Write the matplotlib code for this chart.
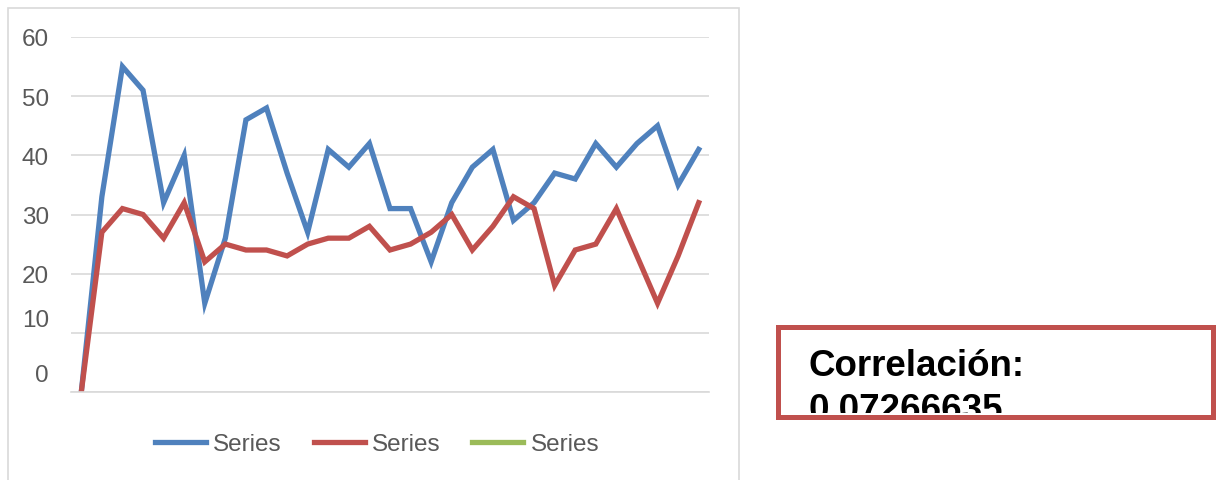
import matplotlib
matplotlib.use("Agg")
import matplotlib.pyplot as plt
import matplotlib.patches as patches
import matplotlib.transforms as mtransforms

plt.rcParams['font.family'] = ['Liberation Sans', 'DejaVu Sans']

# Serie 1 (azul) y serie 2 (roja); la tercera serie no tiene datos
serie_1 = [0, 33, 55, 51, 32, 40, 15, 26, 46, 48, 37, 27, 41, 38, 42, 31,
           31, 22, 32, 38, 41, 29, 32, 37, 36, 42, 38, 42, 45, 35, 41]
serie_2 = [0, 27, 31, 30, 26, 32, 22, 25, 24, 24, 23, 25, 26, 26, 28, 24,
           25, 27, 30, 24, 28, 33, 31, 18, 24, 25, 31, 23, 15, 23, 32]
serie_3 = []
nombres = ["Series", "Series", "Series"]
y_ticks = [0, 10, 20, 30, 40, 50, 60]
correlacion = "0.07266635"

W, H = 1217, 481
fig = plt.figure(figsize=(W / 100, H / 100), dpi=100)

# marco del grafico
fig.patches.append(patches.Rectangle((8 / W, -0.02), (739 - 8) / W, (H - 9) / H + 0.02,
                                     transform=fig.transFigure, fill=False,
                                     edgecolor='#D9D9D9', linewidth=1.2))

ax = fig.add_axes([71 / W, (H - 393) / H, (709 - 71) / W, (393 - 38) / H])
x = list(range(len(serie_1)))
ax.plot(x, serie_1, color='#4F81BD', lw=3.8, label=nombres[0], solid_joinstyle='miter')
ax.plot(x, serie_2, color='#C0504D', lw=3.8, label=nombres[1], solid_joinstyle='miter')
ax.plot(serie_3, serie_3, color='#9BBB59', lw=3.8, label=nombres[2])

ax.set_xlim(-0.5, len(serie_1) - 0.5)
ax.set_ylim(0, 60)
ax.set_yticks(y_ticks)
ax.set_xticks([])
ax.grid(axis='y', color='#D9D9D9', lw=1.2)
ax.set_axisbelow(True)
for s in ['top', 'right', 'left']:
    ax.spines[s].set_visible(False)
ax.spines['bottom'].set_color('#D9D9D9')
ax.spines['bottom'].set_linewidth(1.2)
ax.tick_params(axis='y', length=0, pad=16, labelsize=17.5, labelcolor='#595959')

# las etiquetas inferiores quedan algo desplazadas hacia arriba
desplaz = {0: 19, 10: 15}
for val, lab in zip(y_ticks, ax.get_yticklabels()):
    if val in desplaz:
        lab.set_transform(lab.get_transform() +
                          mtransforms.ScaledTranslation(0, desplaz[val] / 100, fig.dpi_scale_trans))

fig.legend(loc='center', bbox_to_anchor=(377 / W, 1 - 445 / H), ncol=3, frameon=False,
           fontsize=17.5, handlelength=2.1, handletextpad=0.3, columnspacing=1.3,
           labelcolor='#595959')

# cuadro con la correlacion
caja = patches.Rectangle((778 / W, 1 - 418 / H), (1213 - 778) / W, (418 - 328) / H,
                         transform=fig.transFigure, fill=False,
                         edgecolor='#C0504D', linewidth=3.6)
fig.patches.append(caja)
clip = patches.Rectangle((778 / W, 1 - 414 / H), (1213 - 778) / W, (414 - 328) / H,
                         transform=fig.transFigure)
t1 = fig.text(809 / W, 1 - 376 / H, "Correlación:", fontsize=26.5, fontweight='bold',
              va='baseline', ha='left')
t2 = fig.text(809 / W, 1 - 420 / H, correlacion, fontsize=26.5, fontweight='bold',
              va='baseline', ha='left')
t2.set_clip_path(clip)

fig.savefig("out.png", dpi=100)
